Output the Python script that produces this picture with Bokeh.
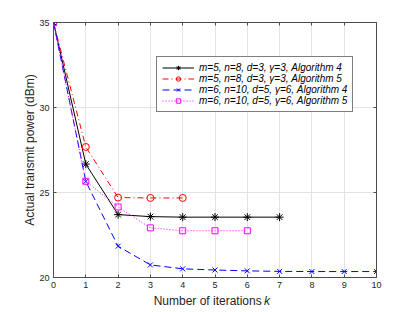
from bokeh.plotting import figure
from bokeh.layouts import column
from bokeh.models import Range1d, LinearAxis, FixedTicker, Label, Legend, LegendItem, CustomJSTickFormatter
from bokeh.embed import file_html
from bokeh.resources import INLINE

# ---- data ----
k_a = [0, 1, 2, 3, 4, 5, 6, 7]
p_m5_alg4 = [35, 26.67, 23.70, 23.58, 23.55, 23.55, 23.55, 23.55]
k_b = [0, 1, 2, 3, 4]
p_m5_alg5 = [35, 27.68, 24.70, 24.68, 24.68]
k_c = [0, 1, 2, 3, 4, 5, 6, 7, 8, 9, 10]
p_m6_alg4 = [35, 25.65, 21.84, 20.74, 20.51, 20.44, 20.39, 20.36, 20.35, 20.35, 20.35]
k_d = [0, 1, 2, 3, 4, 5, 6]
p_m6_alg5 = [35, 25.66, 24.15, 22.92, 22.75, 22.75, 22.75]

x_ticks = [0, 1, 2, 3, 4, 5, 6, 7, 8, 9, 10]
y_ticks = [20, 25, 30, 35]
labels = ["m=5, n=8, d=3, \u03b3=3, Algorithm 4",
          "m=5, n=8, d=3, \u03b3=3, Algorithm 5",
          "m=6, n=10, d=5, \u03b3=6, Algorithm 4",
          "m=6, n=10, d=5, \u03b3=6, Algorithm 5"]
x_title = "Number of iterations"
x_title_var = "k"
y_title = "Actual transmit power (dBm)"

FONT = "Liberation Sans"
AX = "#4d4d4d"
TXT = "#262626"
W = 408

p = figure(width=W, height=294, output_backend="svg", toolbar_location=None,
           x_range=Range1d(0, 10), y_range=Range1d(20, 35),
           min_border_left=53, min_border_right=32, min_border_top=22, min_border_bottom=17)
p.outline_line_color = None
p.background_fill_color = "white"
p.border_fill_color = "white"

def style_axis(ax, ticks, show_labels=True):
    ax.ticker = FixedTicker(ticks=ticks)
    ax.axis_line_color = AX
    ax.axis_line_width = 1
    ax.major_tick_line_color = AX
    ax.major_tick_in = 3
    ax.major_tick_out = 0
    ax.minor_tick_line_color = None
    ax.major_label_text_font = FONT
    ax.major_label_text_font_size = "9px"
    ax.major_label_text_color = TXT
    ax.major_label_standoff = 4
    if not show_labels:
        ax.formatter = CustomJSTickFormatter(code="return ''")

style_axis(p.xaxis[0], x_ticks)
style_axis(p.yaxis[0], y_ticks)
p.yaxis[0].axis_label = y_title
p.yaxis[0].axis_label_text_font = FONT
p.yaxis[0].axis_label_text_font_size = "12px"
p.yaxis[0].axis_label_text_font_style = "normal"
p.yaxis[0].axis_label_text_color = TXT
p.yaxis[0].axis_label_standoff = -1

top = LinearAxis()
style_axis(top, x_ticks, False)
top.major_label_standoff = 0
p.add_layout(top, "above")
right = LinearAxis()
style_axis(right, y_ticks, False)
right.major_label_standoff = 0
p.add_layout(right, "right")

p.xgrid.ticker = FixedTicker(ticks=x_ticks)
p.ygrid.ticker = FixedTicker(ticks=y_ticks)
p.grid.grid_line_color = "#e3e3e3"
p.grid.grid_line_width = 1

items = []
l1 = p.line(k_a, p_m5_alg4, line_color="black", line_width=1)
s1 = p.scatter(k_a, p_m5_alg4, marker="asterisk", size=8, line_color="black", line_width=1)
items.append(LegendItem(label=labels[0], renderers=[l1, s1]))

l2 = p.line(k_b, p_m5_alg5, line_color="#ff0000", line_width=1, line_dash="6 3 1 3")
s2 = p.scatter(k_b, p_m5_alg5, marker="circle", size=7, line_color="#ff0000", fill_color=None, line_width=1)
items.append(LegendItem(label=labels[1], renderers=[l2, s2]))

l3 = p.line(k_c, p_m6_alg4, line_color="#0000ff", line_width=1, line_dash="7 4")
s3 = p.scatter(k_c, p_m6_alg4, marker="x", size=7, line_color="#0000ff", line_width=1)
items.append(LegendItem(label=labels[2], renderers=[l3, s3]))

l4 = p.line(k_d, p_m6_alg5, line_color="#ff00ff", line_width=1, line_dash="1 2")
s4 = p.scatter(k_d, p_m6_alg5, marker="square", size=6, line_color="#ff00ff", fill_color=None, line_width=1)
items.append(LegendItem(label=labels[3], renderers=[l4, s4]))

legend = Legend(items=items, location=(103, 165))
legend.label_text_font = FONT
legend.label_text_font_size = "10px"
legend.label_text_font_style = "italic"
legend.label_text_color = "black"
legend.label_height = 11
legend.glyph_height = 11
legend.glyph_width = 32
legend.label_standoff = 5
legend.spacing = 0
legend.padding = 5
legend.margin = 0
legend.border_line_color = "black"
legend.border_line_width = 1
legend.background_fill_color = "white"
legend.background_fill_alpha = 1
p.add_layout(legend, "center")

# strip below the plot carrying the x-axis title (italic k)
H2 = 16
p2 = figure(width=W, height=H2, output_backend="svg", toolbar_location=None,
            x_range=Range1d(0, W), y_range=Range1d(0, H2), min_border=0)
p2.axis.visible = False
p2.grid.visible = False
p2.outline_line_color = None
p2.add_layout(Label(x=263, y=10, text=x_title, text_align="right", text_baseline="alphabetic",
                    text_font=FONT, text_font_size="12px", text_color=TXT))
p2.add_layout(Label(x=266, y=10, text=x_title_var, text_align="left", text_baseline="alphabetic",
                    text_font=FONT, text_font_size="12px", text_font_style="italic", text_color=TXT))

layout = column(p, p2, spacing=0)
open("out.html", "w").write(file_html(layout, INLINE))
